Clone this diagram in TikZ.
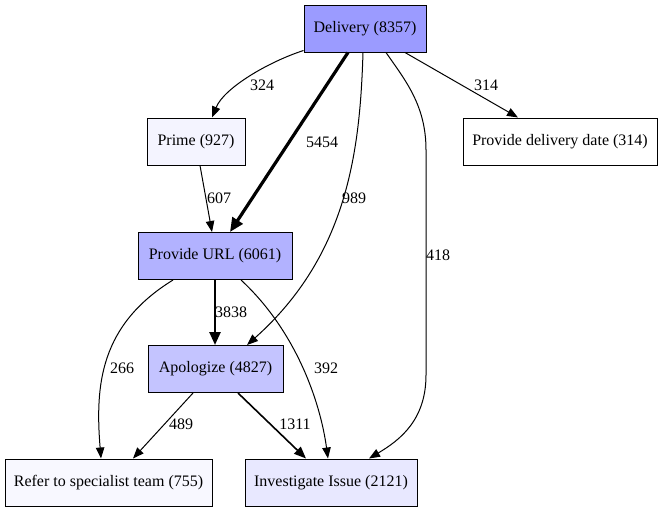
\documentclass[tikz,border=0pt]{standalone}
\usepackage{fontspec}
\setmainfont{Liberation Serif}
\usetikzlibrary{arrows.meta,calc}
\definecolor{cDel}{RGB}{155,155,255}
\definecolor{cUrl}{RGB}{178,178,255}
\definecolor{cApo}{RGB}{196,196,255}
\definecolor{cInv}{RGB}{232,232,255}
\definecolor{cPri}{RGB}{244,244,255}
\definecolor{cRef}{RGB}{248,248,255}
\begin{document}
\begin{tikzpicture}[x=1pt,y=-1pt,
  every node/.style={font=\fontsize{16}{18}\selectfont},
  box/.style={draw=black,line width=1pt,rectangle,minimum height=47pt,inner sep=0pt},
  edge/.style={draw=black,line width=1pt,-{Triangle[length=11pt,width=8.5pt]}},
  medge/.style={draw=black,line width=1.6pt,-{Triangle[length=12pt,width=9.5pt]}},
  bigedge/.style={draw=black,line width=3.2pt,-{Triangle[length=14pt,width=12pt]}},
  midedge/.style={draw=black,line width=2.5pt,-{Triangle[length=13pt,width=11pt]}},
  lbl/.style={inner sep=0pt}]
\useasboundingbox (0,0) rectangle (663,512);
\node[box,fill=cDel,minimum width=122pt] (del) at (365,28.5) {Delivery (8357)};
\node[box,fill=cPri,minimum width=98pt] (pri) at (196,141.5) {Prime (927)};
\node[box,fill=white,minimum width=194pt] (dat) at (560,141.5) {Provide delivery date (314)};
\node[box,fill=cUrl,minimum width=154pt] (url) at (215,256) {Provide URL (6061)};
\node[box,fill=cApo,minimum width=135pt] (apo) at (215.5,369) {Apologize (4827)};
\node[box,fill=cRef,minimum width=207pt] (ref) at (108.5,482.5) {Refer to specialist team (755)};
\node[box,fill=cInv,minimum width=172pt] (inv) at (331,482.5) {Investigate Issue (2121)};
% edges
\draw[edge] ($(del.south west)+(0,-2)$) .. controls (268,62) and (224,88) .. ($(pri.north)+(16,0)$);
\draw[bigedge] ($(del.south)+(-17,0)$) -- ($(url.north)+(15,0)$);
\draw[edge] ($(del.south)+(-2,0)$) .. controls (360,150) and (348,255) .. ($(apo.north)+(31.5,0)$);
\draw[edge] ($(del.south)+(21,0)$) .. controls (405,80) and (426,105) .. (426,150) -- (426,375) .. controls (426,420) and (400,440) .. ($(inv.north)+(38,0)$);
\draw[edge] ($(del.south)+(40,0)$) -- ($(dat.north)+(-42,0)$);
\draw[edge] ($(pri.south)+(4,0)$) -- ($(url.north)+(-3,0)$);
\draw[midedge] (url.south) -- (apo.north -| url.south);
\draw[edge] ($(url.south)+(-42,0)$) .. controls (100,325) and (95,385) .. ($(ref.north)+(-7.5,0)$);
\draw[edge] ($(url.south)+(26,0)$) .. controls (295,330) and (320,400) .. ($(inv.north)+(-3,0)$);
\draw[edge] ($(apo.south)+(-22.5,0)$) -- ($(ref.north)+(24.5,0)$);
\draw[medge] ($(apo.south)+(22.5,0)$) -- ($(inv.north)+(-25,0)$);
% labels
\node[lbl] (l324) at (262,85) {324};
\node[lbl] (l5454) at (322,142) {5454};
\node[lbl] (l989) at (354,198) {989};
\node[lbl] (l314) at (486,85) {314};
\node[lbl] (l607) at (219,198) {607};
\node[lbl] (l418) at (438,255) {418};
\node[lbl] (l3838) at (231,312) {3838};
\node[lbl] (l266) at (122,368) {266};
\node[lbl] (l392) at (326,368) {392};
\node[lbl] (l489) at (181,424) {489};
\node[lbl] (l1311) at (295,424) {1311};
\end{tikzpicture}
\end{document}
